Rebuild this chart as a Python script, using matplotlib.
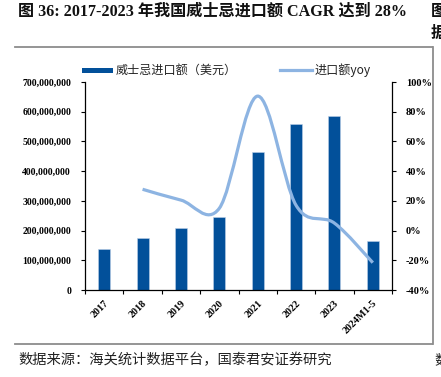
import matplotlib
matplotlib.use("Agg")
import matplotlib.pyplot as plt
from matplotlib.path import Path
from matplotlib.patches import PathPatch, Rectangle
from matplotlib.lines import Line2D
from matplotlib.ticker import FuncFormatter, MultipleLocator
import numpy as np

categories = ["2017", "2018", "2019", "2020", "2021", "2022", "2023", "2024M1-5"]
import_value = [137e6, 174e6, 209e6, 245e6, 465e6, 559e6, 586e6, 166e6]
yoy_categories = ["2018", "2019", "2020", "2021", "2022", "2023", "2024M1-5"]
yoy_pct = [27.8, 20.5, 15.0, 90.5, 17.0, 5.0, -21.6]

title = "图 36: 2017-2023 年我国威士忌进口额 CAGR 达到 28%"
source = "数据来源：海关统计数据平台，国泰君安证券研究"
legend_bar = "威士忌进口额（美元）"
legend_line = "进口额yoy"

BAR = "#02509A"
LINE = "#8DB4E2"
W, H = 441, 377
fig = plt.figure(figsize=(W / 100, H / 100), dpi=100)

serif_b = dict(family=["Liberation Serif", "Noto Sans CJK SC"], weight="bold")
cjk = ["Noto Sans CJK SC", "DejaVu Sans"]

ax = fig.add_axes([85 / W, 1 - 290 / H, (392 - 85) / W, (290 - 82) / H])
x = np.arange(len(categories))
ax.bar(x, import_value, width=0.31, color=BAR, edgecolor="#BCD0E8", linewidth=0.4, zorder=2)
ax.set_xlim(-0.5, len(categories) - 0.5)
ax.set_ylim(0, 700e6)
ax.yaxis.set_major_locator(MultipleLocator(100e6))
ax.yaxis.set_major_formatter(FuncFormatter(lambda v, p: f"{int(round(v)):,}"))
ax.set_xticks(x)
ax.set_xticklabels(categories, rotation=45, ha="right", rotation_mode="anchor", **serif_b, fontsize=7.3)
ax.set_xticks(np.arange(len(categories) + 1) - 0.5, minor=True)
ax.tick_params(axis="x", which="major", length=0, pad=6)
ax.tick_params(axis="x", which="minor", length=3, direction="out", width=0.8)
ax.tick_params(axis="y", length=3, direction="out", width=0.8, pad=7)
for lab in ax.get_yticklabels():
    lab.set_fontfamily(serif_b["family"]); lab.set_fontweight("bold"); lab.set_fontsize(7)
for s in ["top", "right"]:
    ax.spines[s].set_visible(False)
for s in ["left", "bottom"]:
    ax.spines[s].set_linewidth(0.9)

ax2 = ax.twinx()
ax2.set_ylim(-40, 100)
ax2.yaxis.set_major_locator(MultipleLocator(20))
ax2.yaxis.set_major_formatter(FuncFormatter(lambda v, p: f"{int(round(v))}%"))
ax2.tick_params(axis="y", length=3, direction="out", width=0.8, pad=7)
for lab in ax2.get_yticklabels():
    lab.set_fontfamily(serif_b["family"]); lab.set_fontweight("bold"); lab.set_fontsize(7.5)
for s in ["top", "left", "bottom"]:
    ax2.spines[s].set_visible(False)
ax2.spines["right"].set_linewidth(0.9)

# smoothed line (Catmull-Rom style as in Excel)
px = np.array([categories.index(c) for c in yoy_categories], dtype=float)
py = np.array(yoy_pct, dtype=float)
P = np.column_stack([px, py])
verts = [tuple(P[0])]
codes = [Path.MOVETO]
n = len(P)
for i in range(n - 1):
    p0 = P[i - 1] if i > 0 else P[i]
    p1 = P[i]
    p2 = P[i + 1]
    p3 = P[i + 2] if i + 2 < n else P[i + 1]
    c1 = p1 + (p2 - p0) / 6
    c2 = p2 - (p3 - p1) / 6
    verts += [tuple(c1), tuple(c2), tuple(p2)]
    codes += [Path.CURVE4] * 3
ax2.add_patch(PathPatch(Path(verts, codes), facecolor="none", edgecolor=LINE, linewidth=2.3,
                        capstyle="butt", zorder=3))

# legend
fig.patches.append(Rectangle((82 / W, 1 - 72.5 / H), 31 / W, 5 / H, transform=fig.transFigure,
                             facecolor=BAR, edgecolor="none"))
fig.text(116 / W, 1 - 70 / H, legend_bar, family=cjk, fontsize=8.7, va="center", ha="left", color="#222222")
fig.lines.append(Line2D([280 / W, 312 / W], [1 - 70 / H, 1 - 70 / H], transform=fig.transFigure,
                        color=LINE, linewidth=2.3))
fig.text(315 / W, 1 - 70 / H, legend_line, family=cjk, fontsize=8.7, va="center", ha="left", color="#222222")

# frame lines
g = "#8C8C8C"
fig.lines.append(Line2D([15 / W, 432 / W], [1 - 47 / H, 1 - 47 / H], transform=fig.transFigure, color=g, linewidth=1.3))
fig.lines.append(Line2D([15 / W, 432 / W], [1 - 344 / H, 1 - 344 / H], transform=fig.transFigure, color=g, linewidth=1.3))
fig.lines.append(Line2D([432.5 / W, 432.5 / W], [1 - 47 / H, 1 - 344 / H], transform=fig.transFigure, color=g, linewidth=1.3))

# title and source
fig.text(18 / W, 1 - 12 / H, title, fontsize=11.6, va="center", ha="left", **serif_b, color="#111111")
fig.text(18 / W, 1 - 360 / H, source, family=cjk, fontsize=10.3, va="center", ha="left", color="#222222")
# neighbouring column (clipped at the image edge, as in the reference)
fig.text(431 / W, 1 - 12 / H, "图", fontsize=11.6, va="center", ha="left", **serif_b, color="#111111")
fig.text(431 / W, 1 - 34 / H, "据", fontsize=11.6, va="center", ha="left", **serif_b, color="#111111")
fig.text(434 / W, 1 - 360 / H, "数", family=cjk, fontsize=10.3, va="center", ha="left", color="#222222")

fig.savefig("out.png", dpi=100)
